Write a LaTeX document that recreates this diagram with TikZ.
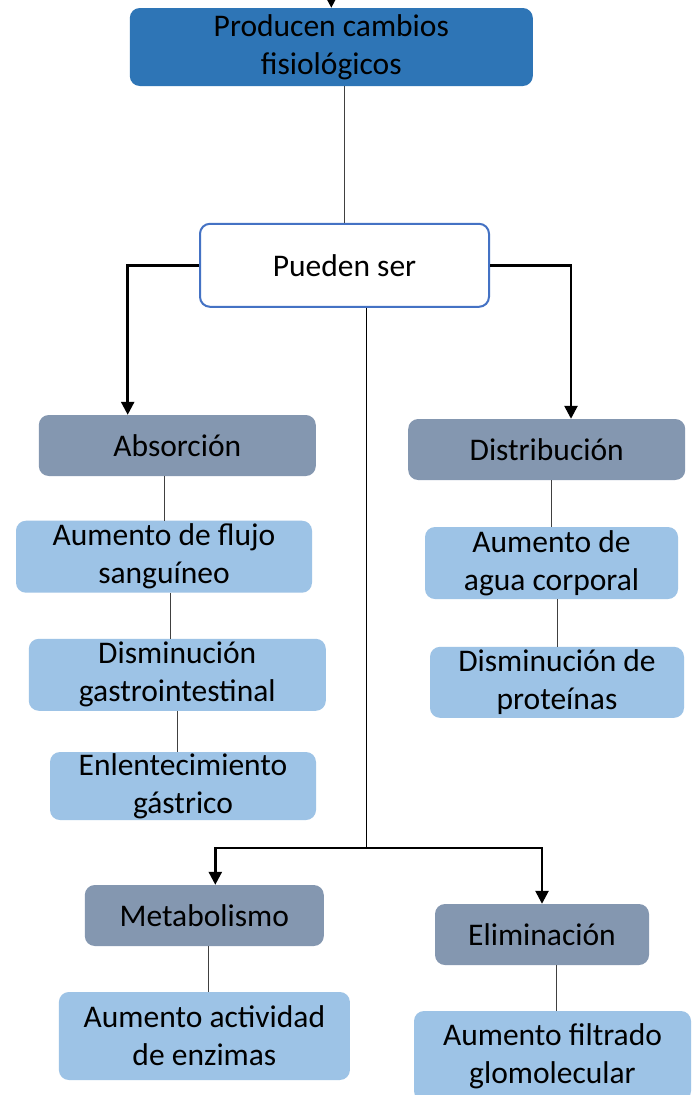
\documentclass[tikz,border=0pt]{standalone}
\usepackage{xcolor}
\usepackage{fontspec}
\setmainfont{Carlito}
\usepackage{tikz}
\usetikzlibrary{shapes, arrows.meta, positioning}
\definecolor{topblue}{HTML}{2E75B6}
\definecolor{hubline}{HTML}{4472C4}
\definecolor{catgray}{HTML}{8497B0}
\definecolor{itemblue}{HTML}{9DC3E6}

\begin{document}
\begin{tikzpicture}[x=1pt, y=-1pt,
            font=\fontsize{31.5}{38}\selectfont,
            box/.style={rectangle, rounded corners=10pt, inner sep=0pt, align=center},
            catbox/.style={box, fill=catgray, minimum height=61pt},
            itembox/.style={box, fill=itemblue},
            link/.style={draw=black!75, line width=1pt},
            flow/.style={line width=2.5pt, -{Triangle[length=13pt, width=13pt]}}]

            \clip (0,0) rectangle (692,1095);
            \fill[white] (0,0) rectangle (692,1095);

            \node[box, fill=topblue, minimum width=403pt, minimum height=78pt] (producen) at (331.3,47) {Producen cambios\\fisiológicos};
            \node[box, draw=hubline, line width=2pt, fill=white, minimum width=289pt, minimum height=83pt] (pueden) at (344.5,265.3) {Pueden ser};

            \node[catbox, minimum width=277pt] (absorcion) at (177.3,445.5) {Absorción};
            \node[itembox, minimum width=296pt, minimum height=72pt] (flujo) at (164,556.7) {Aumento de flujo\\sanguíneo};
            \node[itembox, minimum width=297pt, minimum height=72pt] (gastro) at (177.3,674.8) {Disminución\\gastrointestinal};
            \node[itembox, minimum width=266pt, minimum height=68pt] (enlentecimiento) at (183,786) {Enlentecimiento\\gástrico};

            \node[catbox, minimum width=277pt] (distribucion) at (546.7,449.5) {Distribución};
            \node[itembox, minimum width=253pt, minimum height=72pt] (agua) at (551.5,563) {Aumento de\\agua corporal};
            \node[itembox, minimum width=254pt, minimum height=71pt] (proteinas) at (557,682.3) {Disminución de\\proteínas};

            \node[catbox, minimum width=239pt] (metabolismo) at (204.3,915.5) {Metabolismo};
            \node[itembox, minimum width=291pt, minimum height=88pt] (enzimas) at (204.4,1036) {Aumento actividad\\de enzimas};

            \node[catbox, minimum width=214pt] (eliminacion) at (542,934.5) {Eliminación};
            \node[itembox, minimum width=277pt, minimum height=90pt] (filtrado) at (552.5,1056) {Aumento filtrado\\glomolecular};

            \coordinate (entrada) at (331.3,-20);
            \coordinate (split) at (366.7,848);

            \draw[flow] (entrada) -- (producen.north);
            \draw[link] (producen.south -| pueden.north) -- (pueden.north);

            \draw[flow] (pueden.west) -| ([xshift=-49.6pt]absorcion.north);
            \draw[flow] (pueden.east) -| ([xshift=24.3pt]distribucion.north);
            \draw[line width=1.2pt] ([xshift=22.2pt]pueden.south) -- (split);
            \draw[flow] (split) -| ([xshift=11pt]metabolismo.north);
            \draw[flow] (split) -| (eliminacion.north);

            \draw[link] (absorcion.south -| flujo.north) -- (flujo.north);
            \draw[link] ([xshift=6.7pt]flujo.south) -- ([xshift=6.7pt]flujo.south |- gastro.north);
            \draw[link] (gastro.south) -- (gastro.south |- enlentecimiento.north);

            \draw[link] (distribucion.south -| agua.north) -- (agua.north);
            \draw[link] (agua.south -| proteinas.north) -- (proteinas.north);

            \draw[link] ([xshift=4pt]metabolismo.south) -- ([xshift=4pt]metabolismo.south |- enzimas.north);
            \draw[link] ([xshift=14.7pt]eliminacion.south) -- ([xshift=14.7pt]eliminacion.south |- filtrado.north);
        \end{tikzpicture}
\end{document}
